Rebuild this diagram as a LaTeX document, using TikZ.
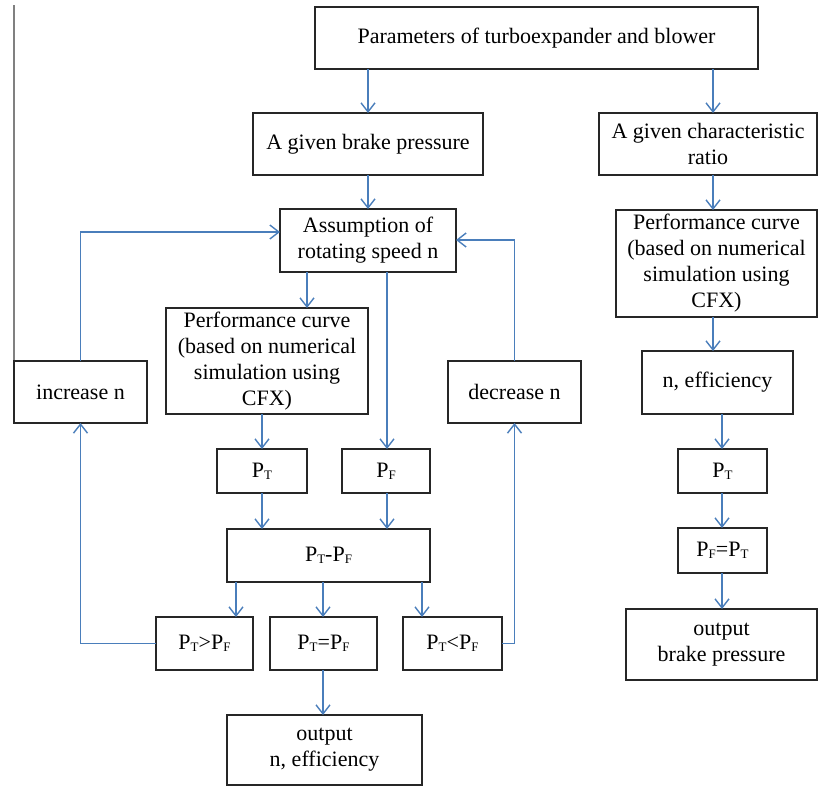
\documentclass[tikz,border=0pt]{standalone}
\usepackage{fontspec}
\setmainfont{Liberation Serif}
\usetikzlibrary{arrows.meta}
\definecolor{arrblue}{HTML}{4A7EBB}
\definecolor{boxline}{HTML}{262626}
\newcommand\subT{\raisebox{-2pt}{\fontsize{13}{13}\selectfont T}}
\newcommand\subF{\raisebox{-2pt}{\fontsize{13}{13}\selectfont F}}
\tikzset{
  bx/.style={draw=boxline, line width=2pt, inner sep=0pt, outer sep=0pt, align=center,
    font=\fontsize{22}{26}\selectfont},
  arr/.style={draw=arrblue, line width=1.6pt, -{Straight Barb[length=9pt,width=14pt,line width=1.4pt]}},
}
\begin{document}
\begin{tikzpicture}[x=1pt,y=-1pt]
\useasboundingbox (0,0) rectangle (818,787);
\draw[gray, line width=1.5pt] (14,5) -- (14,361);
\node[bx, minimum width=443pt, minimum height=62pt] (top) at (536.5,38) {Parameters of turboexpander and blower};
\node[bx, minimum width=230pt, minimum height=62pt] (brake) at (368,144) {A given brake pressure};
\node[bx, minimum width=218pt, minimum height=62pt] (ratio) at (708,144) {A given characteristic\\ratio};
\node[bx, minimum width=176pt, minimum height=63pt] (assump) at (368,240.5) {Assumption of\\rotating speed n};
\node[bx, minimum width=202pt, minimum height=106pt] (perfL) at (267,361) {Performance curve\\(based on numerical\\simulation using\\CFX)};
\node[bx, minimum width=201pt, minimum height=107pt] (perfR) at (716.5,263.5) {Performance curve\\(based on numerical\\simulation using\\CFX)};
\node[bx, minimum width=133pt, minimum height=62pt] (incr) at (80.5,392) {increase n};
\node[bx, minimum width=133pt, minimum height=62pt] (decr) at (514.5,392) {decrease n};
\node[bx, minimum width=151pt, minimum height=63pt] (neff) at (717.5,382.5) {n, efficiency};
\node[bx, minimum width=90pt, minimum height=44pt] (PTL) at (262,471) {P\subT};
\node[bx, minimum width=88pt, minimum height=44pt] (PFL) at (386,471) {P\subF};
\node[bx, minimum width=89pt, minimum height=44pt] (PTR) at (722.5,471) {P\subT};
\node[bx, minimum width=203pt, minimum height=53pt] (diff) at (328.5,555.5) {P\subT-P\subF};
\node[bx, minimum width=89pt, minimum height=45pt] (PFPT) at (722.5,550.5) {P\subF=P\subT};
\node[bx, minimum width=97pt, minimum height=53pt] (gt) at (204.5,643.5) {P\subT>P\subF};
\node[bx, minimum width=107pt, minimum height=53pt] (eq) at (323.5,643.5) {P\subT=P\subF};
\node[bx, minimum width=99pt, minimum height=53pt] (lt) at (452.5,643.5) {P\subT<P\subF};
\node[bx, minimum width=191pt, minimum height=71pt] (outBP) at (721.5,644.5) {output\\brake pressure};
\node[bx, minimum width=195pt, minimum height=70pt] (outN) at (324.5,750) {output\\n, efficiency};
\coordinate (x368) at (368,0);
\coordinate (x713) at (713,0);
\coordinate (x307) at (307,0);
\coordinate (x387) at (387,0);
\coordinate (x262) at (262,0);
\coordinate (x722) at (722,0);
\coordinate (x236) at (236,0);
\coordinate (x323) at (323,0);
\coordinate (x422) at (422,0);
\coordinate (yL) at (0,232);
\coordinate (yR) at (0,240);
\draw[arr] (top.south -| x368) -- (brake.north -| x368);
\draw[arr] (top.south -| x713) -- (ratio.north -| x713);
\draw[arr] (brake.south -| x368) -- (assump.north -| x368);
\draw[arr] (ratio.south -| x713) -- (perfR.north -| x713);
\draw[arr] (assump.south -| x307) -- (perfL.north -| x307);
\draw[arr] (assump.south -| x387) -- (PFL.north -| x387);
\draw[arr] (perfL.south -| x262) -- (PTL.north -| x262);
\draw[arr] (perfR.south -| x713) -- (neff.north -| x713);
\draw[arr] (neff.south -| x722) -- (PTR.north -| x722);
\draw[arr] (PTR.south -| x722) -- (PFPT.north -| x722);
\draw[arr] (PFPT.south -| x722) -- (outBP.north -| x722);
\draw[arr] (PTL.south -| x262) -- (diff.north -| x262);
\draw[arr] (PFL.south -| x387) -- (diff.north -| x387);
\draw[arr] (diff.south -| x236) -- (gt.north -| x236);
\draw[arr] (diff.south -| x323) -- (eq.north -| x323);
\draw[arr] (diff.south -| x422) -- (lt.north -| x422);
\draw[arr] (eq.south -| x323) -- (outN.north -| x323);
\draw[arr] (gt.west) -| (incr.south);
\draw[arr] (incr.north) |- (assump.west |- yL);
\draw[arr] (lt.east) -| (decr.south);
\draw[arr] (decr.north) |- (assump.east |- yR);
\end{tikzpicture}
\end{document}
